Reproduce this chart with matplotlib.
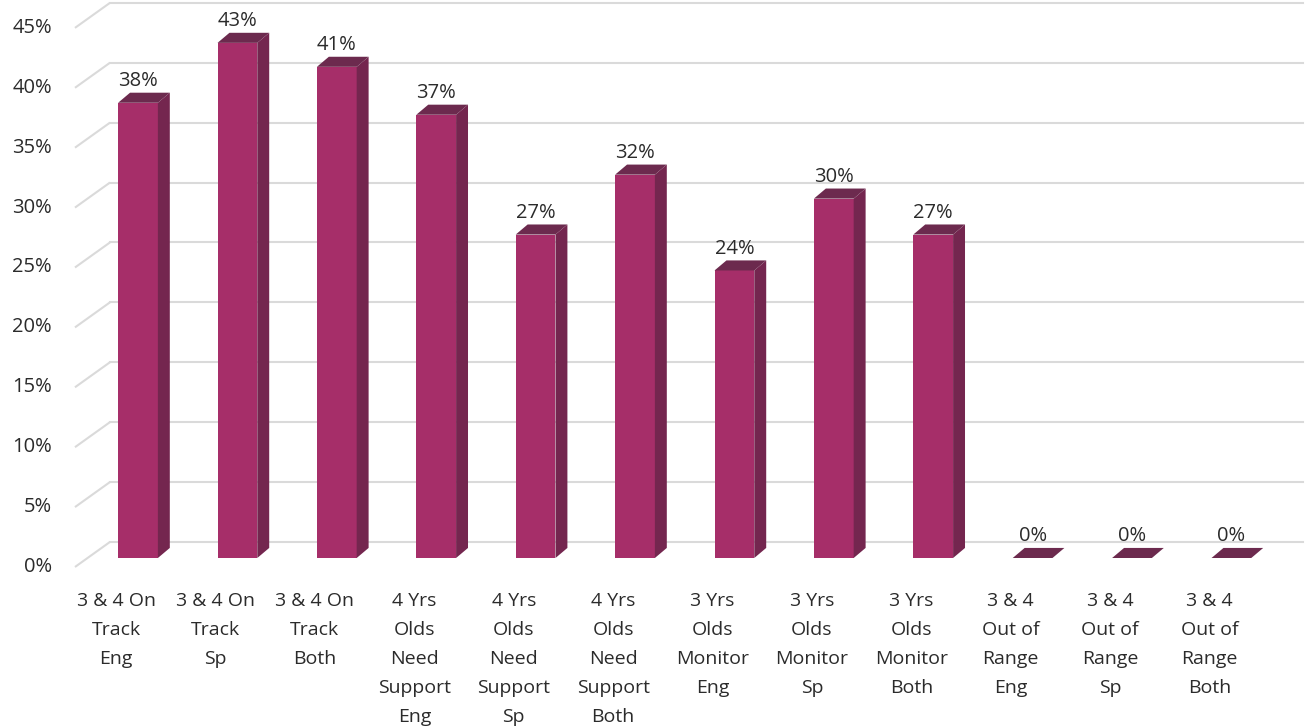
import matplotlib.pyplot as plt
from matplotlib.patches import Polygon

# ---- data ----
categories = [
    "3 & 4 On\nTrack\nEng",
    "3 & 4 On\nTrack\nSp",
    "3 & 4 On\nTrack\nBoth",
    "4 Yrs\nOlds\nNeed\nSupport\nEng",
    "4 Yrs\nOlds\nNeed\nSupport\nSp",
    "4 Yrs\nOlds\nNeed\nSupport\nBoth",
    "3 Yrs\nOlds\nMonitor\nEng",
    "3 Yrs\nOlds\nMonitor\nSp",
    "3 Yrs\nOlds\nMonitor\nBoth",
    "3 & 4\nOut of\nRange\nEng",
    "3 & 4\nOut of\nRange\nSp",
    "3 & 4\nOut of\nRange\nBoth",
]
values = [38, 43, 41, 37, 27, 32, 24, 30, 27, 0, 0, 0]
yticks = [0, 5, 10, 15, 20, 25, 30, 35, 40, 45]

FRONT = "#a62e69"
SIDE = "#74264f"
TOP = "#6c2a4e"
TEXT = "#2b2b2b"
GRID = "#dadada"

plt.rcParams["font.family"] = ["Open Sans", "DejaVu Sans"]

fig = plt.figure(figsize=(13.1, 7.27), dpi=100)
ax = fig.add_axes([0, 0, 1, 1])
# pixel mapping: x = (px - 138) / 99.4, y = (558 - py) / 11.98
ax.set_xlim(-138 / 99.4, (1310 - 138) / 99.4)
ax.set_ylim((558 - 727) / 11.98, 558 / 11.98)
ax.axis("off")

w = 0.40     # front face width
dx = 0.12    # bar depth offset (x)
dy = 0.84    # bar depth offset (y, in %)

# back wall gridlines with a slanted left edge
for t in yticks:
    ax.plot([-0.634, -0.282], [t - 0.75, t + 1.34], color=GRID, lw=1.5, zorder=1,
            solid_capstyle="butt")
    ax.plot([-0.282, 11.72], [t + 1.34, t + 1.34], color=GRID, lw=1.5, zorder=1)
    ax.text(-0.865, t - 0.75, f"{t}%", ha="right", va="center", fontsize=14.5, color=TEXT)

xs = list(range(len(values)))
ax.bar(xs, values, width=w, color=FRONT, zorder=3, linewidth=0)

for x, v in zip(xs, values):
    x0, x1 = x - w / 2, x + w / 2
    side = [(x1, 0), (x1 + dx, dy), (x1 + dx, v + dy), (x1, v)]
    top = [(x0, v), (x1, v), (x1 + dx, v + dy), (x0 + dx, v + dy)]
    ax.add_patch(Polygon(side, closed=True, facecolor=SIDE, edgecolor="none", zorder=3))
    ax.add_patch(Polygon(top, closed=True, facecolor=TOP, edgecolor="none", zorder=3))
    ax.text(x, v + 1.8, f"{v}%", ha="center", va="center", fontsize=14.5, color=TEXT, zorder=4)
    ax.text(x - 0.22, -2.8, categories[x], ha="center", va="top", fontsize=14,
            color=TEXT, linespacing=1.8)

fig.savefig("out.png", dpi=100, facecolor="white")
